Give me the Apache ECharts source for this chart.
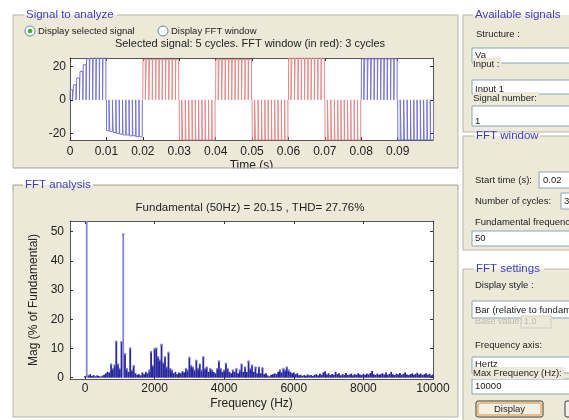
<!DOCTYPE html>
<html><head><meta charset="utf-8">
<script src="https://cdn.jsdelivr.net/npm/echarts@6/dist/echarts.min.js"></script>
<style>html,body{margin:0;padding:0;background:#fff}#c{width:569px;height:420px}</style>
</head><body><div id="c"></div>
<script>
// ---------------- data ----------------
const timeXTicks = [0, 0.01, 0.02, 0.03, 0.04, 0.05, 0.06, 0.07, 0.08, 0.09];
const timeYTicks = [-20, 0, 20];
const halfCycleStarts = [0, 0.01, 0.02, 0.03, 0.04, 0.05, 0.06, 0.07, 0.08, 0.09];
const halfCycleSec = 0.01;
// PWM pulse edges inside one half cycle (ms from start of half cycle)
const pulseOnMs  = [0.05, 0.95, 1.85, 2.75, 3.65, 4.55, 5.45, 6.35, 7.25, 8.15, 9.05];
const pulseOffMs = [0.70, 1.65, 2.60, 3.52, 4.42, 5.32, 6.22, 7.12, 8.05, 8.95, 9.85];
// pulse level per half cycle (array = level of each pulse during start-up)
const halfCycleLevels = [
  [6, 9, 13, 17, 21, 24.5, 25, 25, 25, 25, 25],
  [-18.5, -19, -19.5, -20, -20.5, -21, -21, -21.5, -21.5, -22, -22],
  24, -24, 24, -24, 25, -24, 24.5, -24
];
const fftWindowStart = 0.02;
const fftWindowEnd = 0.08;

const fftStepHz = 50;
const fftMag = [
  0.5, 100, 0.8, 1.2, 0.6, 0.9, 0.5, 0.8, 0.6, 0.4,
  0.7, 1.0, 1.5, 2.0, 1.8, 4.5, 3.0, 4.2, 12.3, 4.5,
  3.0, 12.2, 49, 8, 3, 2, 10, 2.5, 4, 1.5,
  1.0, 1.2, 0.8, 1.8, 1.2, 2.0, 1.5, 2.5, 8.8, 4,
  9.8, 10, 7, 6, 11.3, 5, 7, 3.5, 8.5, 3,
  2.5, 1.5, 2, 1.2, 1.8, 1.5, 2.2, 1.8, 3, 2.5,
  6.8, 4, 3.5, 2.5, 5.8, 3, 4.5, 2.5, 7, 3,
  3.5, 2, 3, 2.5, 2, 1.5, 3, 5.5, 3, 2,
  2.5, 4.8, 3, 2, 1.5, 2.5, 2, 3, 1.5, 2.5,
  4.5, 2, 3.5, 2, 5.5, 3, 4.2, 2, 3.5, 1.5,
  3.5, 1.5, 3.2, 1.2, 1.5, 0.8, 0.5, 1.0, 1.2, 1.5,
  1.2, 2, 2.5, 1.8, 3.0, 2.5, 3.5, 2.5, 2, 1.5,
  1.8, 1.2, 1.5, 0.8, 1.0, 0.6, 0.9, 0.7, 1.1, 0.8,
  0.9, 0.6, 1.0, 1.2, 0.8, 1.4, 1.0, 1.8, 2.2, 1.1,
  1.5, 0.9, 1.3, 1.0, 2.0, 1.2, 1.5, 0.8, 1.2, 1.0,
  1.6, 0.9, 1.1, 1.4, 0.8, 1.2, 1.0, 1.5, 1.1, 0.9,
  1.3, 1.0, 1.4, 1.1, 1.6, 2.3, 1.2, 0.9, 1.4, 1.0,
  1.2, 1.5, 1.1, 1.8, 1.0, 1.3, 2.0, 1.2, 0.9, 1.4,
  1.1, 1.6, 1.0, 1.3, 1.8, 1.1, 0.9, 1.2, 1.5, 1.0,
  1.3, 1.7, 1.1, 1.4, 0.9, 1.2, 1.5, 1.0, 1.3, 0.8,
  1.1
];
const fftXTicks = [0, 2000, 4000, 6000, 8000, 10000];
const fftYTicks = [0, 10, 20, 30, 40, 50];

// ---------------- build ----------------
const FONT = 'Liberation Sans, Arial, sans-serif';
const BLUE = '#7474d4', RED = '#e48a8a';
const lineSeries = halfCycleStarts.map((t0, k) => {
  const lv = halfCycleLevels[k];
  const pts = [[t0, 0]];
  pulseOnMs.forEach((on, j) => {
    const L = Array.isArray(lv) ? lv[j] : lv;
    const a = t0 + on / 1000, b = t0 + pulseOffMs[j] / 1000;
    pts.push([a, 0], [a, L], [b, L], [b, 0]);
  });
  pts.push([t0 + halfCycleSec, 0]);
  const inWin = t0 >= fftWindowStart - 1e-9 && t0 < fftWindowEnd - 1e-9;
  return {
    type: 'line', xAxisIndex: 0, yAxisIndex: 0, data: pts, showSymbol: false,
    lineStyle: { width: 1, color: inWin ? RED : BLUE }, silent: true, z: 3
  };
});
const fftData = fftMag.map((v, i) => [i * fftStepHz, v]);
const fftTops = fftData.filter(d => d[1] >= 2.5 && d[1] < 60);

const axisCommon = {
  axisLine: { show: true, onZero: false, lineStyle: { color: '#555', width: 1 } },
  axisTick: { inside: true, length: 3, lineStyle: { color: '#333' } },
  splitLine: { show: false },
  axisLabel: { color: '#222', fontSize: 12, fontFamily: FONT }
};
function ax(extra) { return echarts.util.merge(echarts.util.clone(axisCommon), extra, true); }

const TEXT = '#222';
const BG = '#ece9d8';
const BORDER = '#b9b6a6';
const TITLEBLUE = '#3d3dbd';
const g = [];
function groupBox(x, y, w, h, title, tx, tw) {
  g.push({ type: 'rect', z: -10, shape: { x, y, width: w, height: h }, style: { fill: BG } });
  const ls = { stroke: BORDER, lineWidth: 1, fill: null };
  g.push({ type: 'polyline', z: -9, shape: { points: [[tx - 2, y], [x, y], [x, y + h], [x + w, y + h], [x + w, y], [tx + tw + 2, y]] }, style: ls });
  g.push({ type: 'text', z: 110, x: tx, y: y, style: { text: title, fill: TITLEBLUE, font: '11.5px ' + FONT, verticalAlign: 'middle' } });
}
function label(x, y, t, size, color, bg) {
  const st = { text: t, fill: color || TEXT, font: (size || 9.5) + 'px ' + FONT, verticalAlign: 'middle' };
  if (bg) { st.backgroundColor = bg; st.padding = [1, 2, 1, 0]; }
  g.push({ type: 'text', z: -5, x, y, style: st });
}
function box(x, y, w, h) {
  g.push({ type: 'rect', z: -6, shape: { x, y, width: w, height: h }, style: { fill: '#fff', stroke: '#8ea2b8', lineWidth: 1 } });
}

// left panels
groupBox(13, 15, 445, 153, 'Signal to analyze', 26, 89);
groupBox(13, 185, 445, 232, 'FFT analysis', 25, 66);
// right panels
groupBox(463, 15, 130, 117, 'Available signals', 475, 92);
groupBox(463, 136, 130, 114, 'FFT window', 476, 62);
groupBox(463, 269, 130, 170, 'FFT settings', 476, 66);

// radio buttons
g.push({ type: 'circle', z: -5, shape: { cx: 30, cy: 31, r: 5 }, style: { fill: '#fff', stroke: '#5d86a8', lineWidth: 1 } });
g.push({ type: 'circle', z: -4, shape: { cx: 30, cy: 31, r: 2.3 }, style: { fill: '#35b335' } });
label(38, 31, 'Display selected signal', 9.5);
g.push({ type: 'circle', z: -5, shape: { cx: 163, cy: 31, r: 5 }, style: { fill: '#fff', stroke: '#5d86a8', lineWidth: 1 } });
label(171, 31, 'Display FFT window', 9.5);

// plot titles
g.push({ type: 'text', z: -5, x: 250, y: 44, style: { text: 'Selected signal: 5 cycles. FFT window (in red): 3 cycles', fill: TEXT, font: '11px ' + FONT, align: 'center', verticalAlign: 'middle' } });
g.push({ type: 'text', z: -5, x: 250, y: 208, style: { text: 'Fundamental (50Hz) = 20.15 , THD= 27.76%', fill: TEXT, font: '11.5px ' + FONT, align: 'center', verticalAlign: 'middle' } });

// available signals
label(476, 34, 'Structure :');
box(472, 48, 120, 15);
label(475, 55, 'Va');
label(473, 64, 'Input :', 9.5, TEXT, BG);
box(472, 80, 120, 14);
label(475, 89, 'Input 1');
label(473, 98, 'Signal number:', 9.5, TEXT, BG);
box(472, 106, 120, 20);
label(475, 121, '1');

// FFT window
label(475, 180, 'Start time (s):');
box(539, 172, 40, 16);
label(543, 180, '0.02');
label(475, 201, 'Number of cycles:');
box(561, 193, 30, 16);
label(564, 201, '3');
label(475, 222, 'Fundamental frequency (Hz):');
box(472, 231, 120, 15);
label(475, 238, '50');

// FFT settings
label(475, 285, 'Display style :');
box(472, 301, 120, 17);
label(475, 310, 'Bar (relative to fundamental)');
label(475, 322, 'Base value:', 9, '#bdbab0');
g.push({ type: 'rect', z: -6, shape: { x: 521, y: 316, width: 30, height: 12 }, style: { fill: BG, stroke: '#cfccc0', lineWidth: 1 } });
label(524, 322, '1.0', 9, '#bdbab0');
label(475, 345, 'Frequency axis:');
box(472, 357, 120, 16);
label(475, 364, 'Hertz');
label(473, 373, 'Max Frequency (Hz):', 9.5, TEXT, BG);
box(472, 379, 120, 15);
label(475, 386, '10000');
// buttons
g.push({ type: 'rect', z: -6, shape: { x: 476, y: 401, width: 67, height: 16, r: 2 }, style: { fill: '#f1efe6', stroke: '#3c3c3c', lineWidth: 1 } });
g.push({ type: 'rect', z: -5, shape: { x: 478, y: 403, width: 63, height: 12, r: 1 }, style: { fill: null, stroke: '#e8b060', lineWidth: 1.5 } });
g.push({ type: 'text', z: -4, x: 509.5, y: 409, style: { text: 'Display', fill: TEXT, font: '9.5px ' + FONT, align: 'center', verticalAlign: 'middle' } });
g.push({ type: 'rect', z: -6, shape: { x: 565, y: 401, width: 40, height: 16, r: 2 }, style: { fill: '#f1efe6', stroke: '#3c3c3c', lineWidth: 1 } });

// white gap between the two left panels (clips the bottom of "Time (s)")
g.push({ type: 'rect', z: 100, shape: { x: 0, y: 168.5, width: 462, height: 16 }, style: { fill: '#fff' } });
g.push({ type: 'line', z: 101, shape: { x1: 13, y1: 168, x2: 458, y2: 168 }, style: { stroke: BORDER, lineWidth: 1 } });
g.push({ type: 'polyline', z: 101, shape: { points: [[23, 185], [13, 185], [13, 190]] }, style: { stroke: BORDER, lineWidth: 1, fill: null } });
g.push({ type: 'polyline', z: 101, shape: { points: [[93, 185], [458, 185], [458, 190]] }, style: { stroke: BORDER, lineWidth: 1, fill: null } });

const option = {
  animation: false,
  backgroundColor: '#fff',
  textStyle: { fontFamily: FONT },
  grid: [
    { left: 70, top: 58, width: 363, height: 82, show: true, backgroundColor: '#fff', borderWidth: 0, z: 0 },
    { left: 70, top: 221, width: 363, height: 158, show: true, backgroundColor: '#fff', borderWidth: 0, z: 0 }
  ],
  xAxis: [
    ax({ gridIndex: 0, type: 'value', position: 'bottom', min: 0, max: 0.0997,
      axisLabel: { margin: 6, customValues: timeXTicks, formatter: v => String(+v.toFixed(2)) },
      axisTick: { customValues: timeXTicks },
      name: 'Time (s)', nameLocation: 'middle', nameGap: 20,
      nameTextStyle: { color: TEXT, fontSize: 12, fontFamily: FONT } }),
    ax({ gridIndex: 0, type: 'value', position: 'top', min: 0, max: 0.0997,
      axisLabel: { show: false }, axisTick: { customValues: timeXTicks } }),
    ax({ gridIndex: 1, type: 'value', position: 'bottom', min: -430, max: 10000,
      axisLabel: { margin: 4, customValues: fftXTicks, formatter: v => String(v) },
      axisTick: { customValues: fftXTicks },
      name: 'Frequency (Hz)', nameLocation: 'middle', nameGap: 19,
      nameTextStyle: { color: TEXT, fontSize: 12, fontFamily: FONT } }),
    ax({ gridIndex: 1, type: 'value', position: 'top', min: -430, max: 10000,
      axisLabel: { show: false }, axisTick: { customValues: fftXTicks } })
  ],
  yAxis: [
    ax({ gridIndex: 0, type: 'value', position: 'left', min: -24, max: 25,
      axisLabel: { margin: 4, customValues: timeYTicks }, axisTick: { customValues: timeYTicks } }),
    ax({ gridIndex: 0, type: 'value', position: 'right', min: -24, max: 25,
      axisLabel: { show: false }, axisTick: { customValues: timeYTicks } }),
    ax({ gridIndex: 1, type: 'value', position: 'left', min: -0.45, max: 53.65,
      axisLabel: { margin: 6, customValues: fftYTicks }, axisTick: { customValues: fftYTicks },
      name: 'Mag (% of Fundamental)', nameLocation: 'middle', nameGap: 21, nameRotate: 90,
      nameTextStyle: { color: TEXT, fontSize: 12, fontFamily: FONT } }),
    ax({ gridIndex: 1, type: 'value', position: 'right', min: -0.45, max: 53.65,
      axisLabel: { show: false }, axisTick: { customValues: fftYTicks } })
  ],
  series: lineSeries.concat([
    { type: 'bar', xAxisIndex: 2, yAxisIndex: 2, data: fftData, barWidth: 1.8,
      itemStyle: { color: p => (p.value[1] > 20 ? '#8585d6' : '#25259e') },
      silent: true, clip: true, z: 3 },
    { type: 'scatter', xAxisIndex: 2, yAxisIndex: 2, data: fftTops, symbol: 'circle', symbolSize: 2.5,
      itemStyle: { color: '#6a6ad0' }, silent: true, z: 4 }
  ]),
  graphic: { elements: g }
};
const chart = echarts.init(document.getElementById('c'), null, { renderer: 'canvas' });
chart.setOption(option);
</script></body></html>
